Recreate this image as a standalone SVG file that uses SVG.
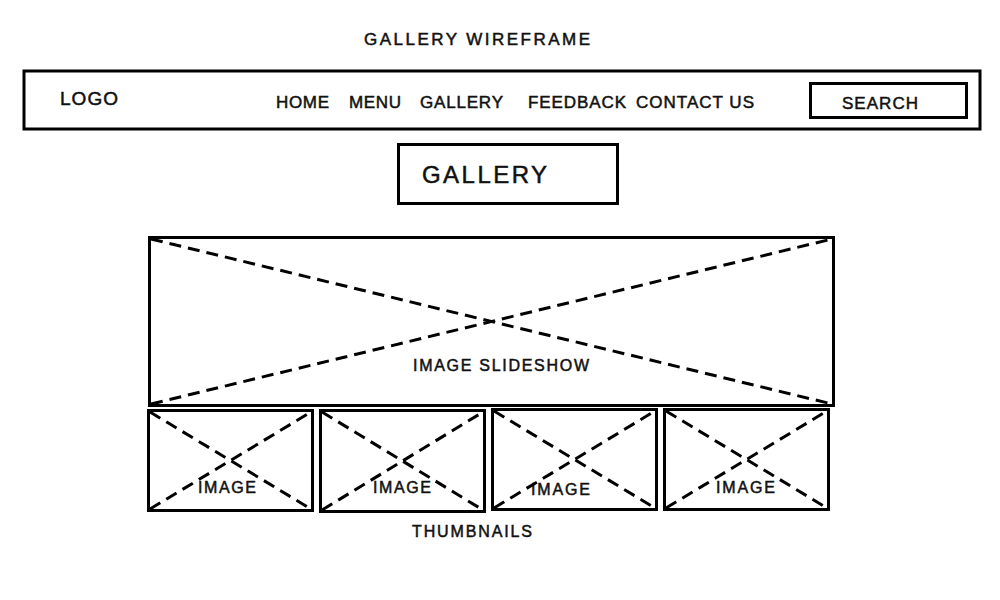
<svg xmlns="http://www.w3.org/2000/svg" width="1000" height="600" viewBox="0 0 1000 600">
<style>
.box{fill:none;stroke:#000;stroke-width:3}
.x{stroke:#000;stroke-width:3;stroke-dasharray:12 7;fill:none}
text{font-family:"Liberation Sans",Arial,sans-serif;fill:#111;stroke:#111;stroke-width:0.5}
.t{font-size:16px}
.n{font-size:17px}
</style>
<rect width="1000" height="600" fill="#fff"/>
<text x="364" y="45" font-size="17" textLength="226" lengthAdjust="spacing">GALLERY WIREFRAME</text>
<g id="navbar">
<rect class="box" x="24" y="71" width="956" height="58"/>
<text x="60" y="105" font-size="19" textLength="58" lengthAdjust="spacing">LOGO</text>
<text class="n" x="276" y="108" textLength="53" lengthAdjust="spacing">HOME</text>
<text class="n" x="349" y="108" textLength="52" lengthAdjust="spacing">MENU</text>
<text class="n" x="420" y="108" textLength="83" lengthAdjust="spacing">GALLERY</text>
<text class="n" x="528" y="108" textLength="98" lengthAdjust="spacing">FEEDBACK</text>
<text class="n" x="636" y="108" textLength="118" lengthAdjust="spacing">CONTACT US</text>
</g>
<g id="search">
<rect class="box" x="810.5" y="83.5" width="156" height="34"/>
<text class="n" x="842" y="109" textLength="76" lengthAdjust="spacing">SEARCH</text>
</g>
<g id="gallery-title">
<rect class="box" x="398.5" y="144.5" width="219" height="59"/>
<text x="422" y="183" font-size="24" textLength="125" lengthAdjust="spacing">GALLERY</text>
</g>
<g id="slideshow">
<rect class="box" x="149.5" y="237.5" width="684" height="168"/>
<text class="t" x="413" y="371" textLength="176" lengthAdjust="spacing">IMAGE SLIDESHOW</text>
</g>
<g id="thumb1">
<rect class="box" x="148.5" y="410.5" width="164" height="100"/>
<text class="t" x="198" y="493" textLength="58" lengthAdjust="spacing">IMAGE</text>
</g>
<g id="thumb2">
<rect class="box" x="320.5" y="410.5" width="164" height="101"/>
<text class="t" x="373" y="493" textLength="58" lengthAdjust="spacing">IMAGE</text>
</g>
<g id="thumb3">
<rect class="box" x="492.5" y="409.5" width="164" height="100"/>
<text class="t" x="531" y="495" textLength="59" lengthAdjust="spacing">IMAGE</text>
</g>
<g id="thumb4">
<rect class="box" x="664.5" y="409.5" width="164" height="100"/>
<text class="t" x="716" y="493" textLength="59" lengthAdjust="spacing">IMAGE</text>
</g>
<text class="t" x="412" y="537" textLength="120" lengthAdjust="spacing">THUMBNAILS</text>
<g id="connectors">
<line class="x" x1="151" y1="239" x2="832" y2="404"/>
<line class="x" x1="151" y1="404" x2="832" y2="239"/>
<line class="x" x1="150" y1="412" x2="311" y2="509"/>
<line class="x" x1="150" y1="509" x2="311" y2="412"/>
<line class="x" x1="322" y1="412" x2="483" y2="510"/>
<line class="x" x1="322" y1="510" x2="483" y2="412"/>
<line class="x" x1="494" y1="411" x2="655" y2="508"/>
<line class="x" x1="494" y1="508" x2="655" y2="411"/>
<line class="x" x1="666" y1="411" x2="827" y2="508"/>
<line class="x" x1="666" y1="508" x2="827" y2="411"/>
</g>
</svg>
